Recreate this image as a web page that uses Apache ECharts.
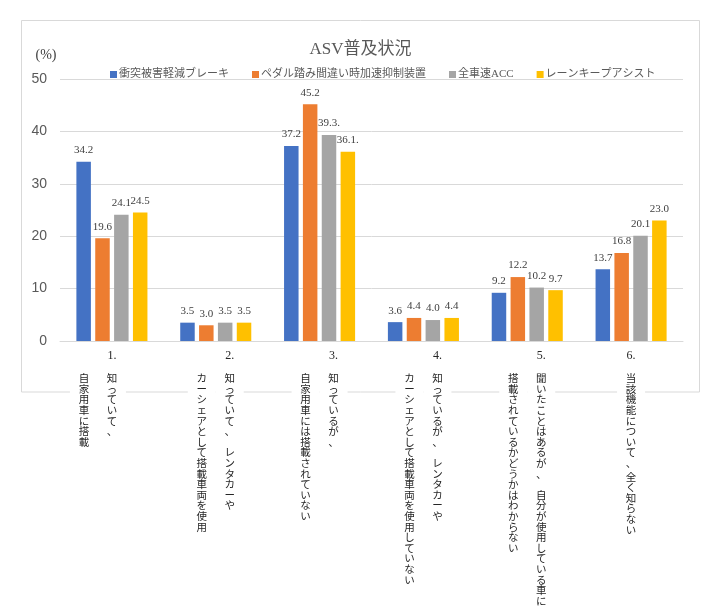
<!DOCTYPE html>
<html><head><meta charset="utf-8">
<script src="https://cdn.jsdelivr.net/npm/echarts@6/dist/echarts.min.js"></script>
<style>html,body{margin:0;padding:0;background:#fff}#c{width:721px;height:616px}</style>
</head><body><div id="c"></div>
<script>
// ---- data ----
const chartTitle = 'ASV普及状況';
const yAxisName = '(%)';
const seriesNames = ['衝突被害軽減ブレーキ', 'ペダル踏み間違い時加速抑制装置', '全車速ACC', 'レーンキープアシスト'];
const seriesColors = ['#4472C4', '#ED7D31', '#A5A5A5', '#FFC000'];
const categoryNumbers = ['1.', '2.', '3.', '4.', '5.', '6.'];
const categoryLine1 = [
  '知っていて、',
  '知っていて、 レンタカーや',
  '知っているが、',
  '知っているが、 レンタカーや',
  '聞いたことはあるが、 自分が使用している車に',
  '当該機能について、 全く知らない'
];
const categoryLine2 = [
  '自家用車に搭載',
  'カーシェアとして搭載車両を使用',
  '自家用車には搭載されていない',
  'カーシェアとして搭載車両を使用していない',
  '搭載されているかどうかはわからない',
  ''
];
const categories = categoryNumbers.map((n, i) => n + categoryLine1[i] + categoryLine2[i]);
const brakeValues = [34.2, 3.5, 37.2, 3.6, 9.2, 13.7];
const pedalValues = [19.6, 3.0, 45.2, 4.4, 12.2, 16.8];
const accValues   = [24.1, 3.5, 39.3, 4.0, 10.2, 20.1];
const laneValues  = [24.5, 3.5, 36.1, 4.4, 9.7, 23.0];
const seriesValues = [brakeValues, pedalValues, accValues, laneValues];
// labels shown with a trailing dot in the source (series index -> category indices)
const trailingDotLabels = [[], [], [2], [2]];
const yMin = 0, yMax = 50, yInterval = 10;

// ---- layout helpers ----
const labelPadCols = [1, 0, 0, 0, 0, 0];
const serifCJK = "'Liberation Serif','Noto Sans CJK JP',serif";
const sansCJK = "'Noto Sans CJK JP',sans-serif";

function verticalLabel(value, index) {
  const cols = [categoryLine2[index], categoryLine1[index]].filter(s => s.length);
  const chars = cols.map(s => Array.from(s));
  const pad = labelPadCols[index];
  const n = Math.max(...chars.map(c => c.length));
  const rows = [];
  let numRow = '';
  cols.forEach((c, k) => { numRow += (k === cols.length - 1) ? `{n|${categoryNumbers[index]}}` : '{e|\u3000}'; });
  for (let p = 0; p < pad; p++) numRow += '{e|\u3000}';
  rows.push(numRow);
  rows.push('{g|\u3000}');
  for (let r = 0; r < n; r++) {
    let row = '';
    chars.forEach(c => {
      const ch = c[r];
      if (ch === undefined) row += '{c|\u3000}';
      else if (ch === ' ') row += '{s|\u3000}';
      else row += `{c|${ch}}`;
    });
    for (let p = 0; p < pad; p++) row += '{e|\u3000}';
    rows.push(row);
  }
  return rows.join('\n');
}

const chart = echarts.init(document.getElementById('c'), null, { renderer: 'canvas' });
chart.setOption({
  animation: false,
  backgroundColor: '#ffffff',
  title: {
    text: chartTitle, left: 'center', top: 36,
    textStyle: { fontFamily: serifCJK, fontSize: 17, fontWeight: 'normal', color: '#595959' }
  },
  legend: {
    data: seriesNames, left: 105, top: 64, icon: 'rect', itemWidth: 7, itemHeight: 7, itemGap: 23,
    textStyle: { fontFamily: serifCJK, fontSize: 11, color: '#595959', padding: [0, 0, 0, -3] }
  },
  graphic: [{
    type: 'rect', z: -10, silent: true,
    shape: { x: 21.5, y: 20.5, width: 678, height: 371.5 },
    style: { fill: null, stroke: '#D9D9D9', lineWidth: 1 }
  }],
  grid: { left: 60, right: 38, top: 79, bottom: 275 },
  xAxis: {
    type: 'category', data: categories,
    axisLine: { lineStyle: { color: '#D9D9D9' } },
    axisTick: { show: false },
    axisLabel: {
      interval: 0, margin: 8, formatter: verticalLabel,
      rich: {
        n: { fontFamily: serifCJK, fontSize: 12, lineHeight: 14, width: 28, align: 'center', color: '#262626', backgroundColor: '#fff' },
        e: { fontSize: 10, lineHeight: 4, width: 28, align: 'center' },
        g: { fontSize: 10, lineHeight: 10, width: 28, align: 'center' },
        s: { fontSize: 4, lineHeight: 3, width: 28, align: 'center', backgroundColor: '#fff' },
        c: { fontFamily: sansCJK, fontSize: 10.5, lineHeight: 10.6, width: 28, align: 'center', color: '#262626', backgroundColor: '#fff' }
      }
    }
  },
  yAxis: {
    type: 'value', min: yMin, max: yMax, interval: yInterval,
    name: yAxisName, nameLocation: 'end', nameGap: 17,
    nameTextStyle: { fontFamily: serifCJK, fontSize: 14, color: '#404040', align: 'center', padding: [0, 28, 0, 0] },
    axisLine: { show: false }, axisTick: { show: false },
    splitLine: { lineStyle: { color: '#D9D9D9' } },
    axisLabel: { margin: 13, fontFamily: "'Liberation Sans',sans-serif", fontSize: 14, color: '#595959' }
  },
  series: seriesNames.map((name, si) => ({
    name, type: 'bar', data: seriesValues[si], barWidth: 14.5, barGap: '30%',
    itemStyle: { color: seriesColors[si] },
    label: {
      show: true, position: 'top', distance: 6,
      fontFamily: serifCJK, fontSize: 11, color: '#404040',
      formatter: p => p.value.toFixed(1) + (trailingDotLabels[si].includes(p.dataIndex) ? '.' : '')
    }
  }))
});
</script></body></html>
